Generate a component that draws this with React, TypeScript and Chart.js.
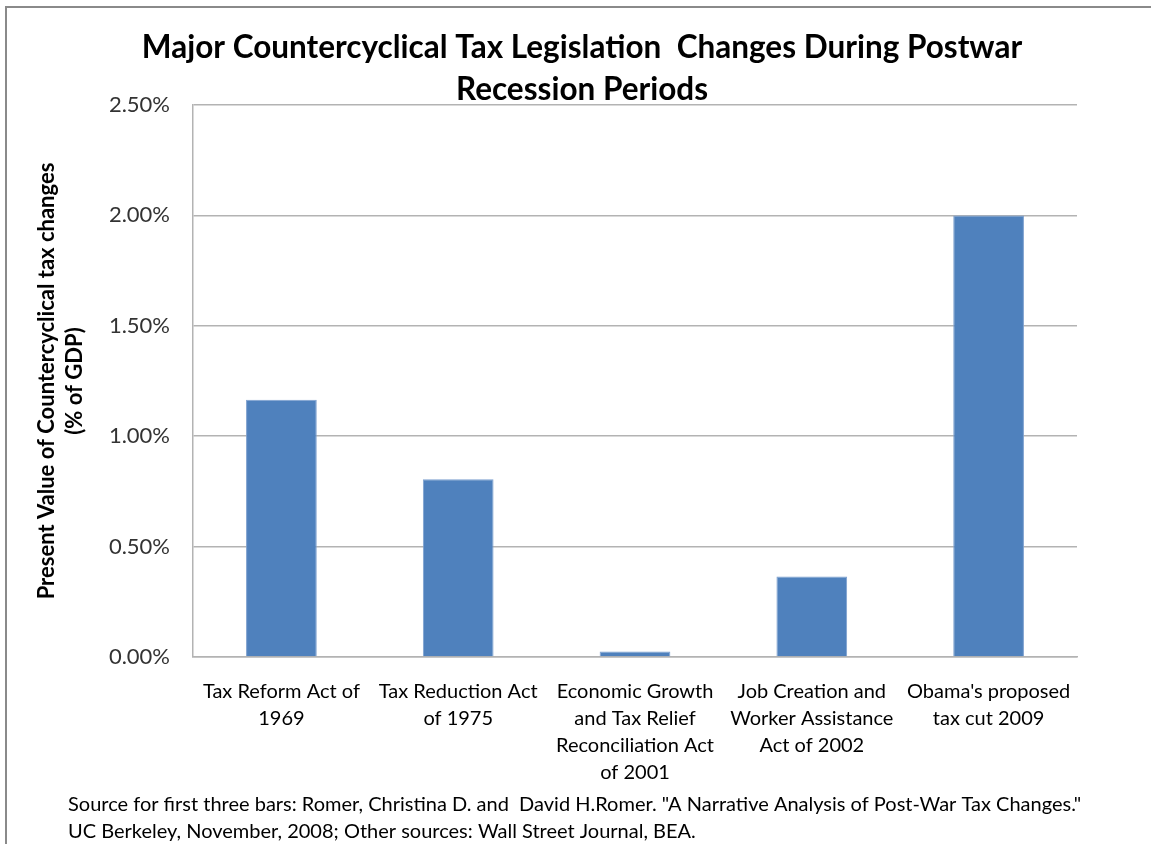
import React, { useEffect, useRef } from "react";
import { Chart, registerables } from "chart.js";

Chart.register(...registerables);

const categories: string[][] = [
  ["Tax Reform Act of", "1969"],
  ["Tax Reduction Act", "of 1975"],
  ["Economic Growth", "and Tax Relief", "Reconciliation Act", "of 2001"],
  ["Job Creation and", "Worker Assistance", "Act of 2002"],
  ["Obama's proposed", "tax cut 2009"],
];
const values: number[] = [1.165, 0.805, 0.025, 0.365, 2.0];
const yMin = 0;
const yMax = 2.5;
const yStep = 0.5;
const titleLines: string[] = [
  "Major Countercyclical Tax Legislation  Changes During Postwar",
  "Recession Periods",
];
const yAxisTitle: string[] = [
  "Present Value of Countercyclical tax changes",
  "(% of GDP)",
];
const sourceLines: string[] = [
  'Source for first three bars: Romer, Christina D. and  David H.Romer. "A Narrative Analysis of Post-War Tax Changes."',
  "UC Berkeley, November, 2008; Other sources: Wall Street Journal, BEA.",
];

const FONT = "Lato, 'Open Sans', sans-serif";

const frameAndNotePlugin = {
  id: "frameAndNote",
  afterDraw(chart: any) {
    const ctx = chart.ctx as CanvasRenderingContext2D;
    ctx.save();
    ctx.strokeStyle = "#8a8a8a";
    ctx.lineWidth = 2;
    ctx.beginPath();
    ctx.moveTo(6, chart.height);
    ctx.lineTo(6, 7);
    ctx.lineTo(chart.width, 7);
    ctx.stroke();
    ctx.fillStyle = "#000";
    ctx.font = `20px ${FONT}`;
    ctx.textAlign = "left";
    ctx.textBaseline = "middle";
    sourceLines.forEach((line, i) => ctx.fillText(line, 68, 805 + i * 27));
    ctx.restore();
  },
};

export default function App() {
  const canvasRef = useRef<HTMLCanvasElement | null>(null);

  useEffect(() => {
    document.body.style.margin = "0";
    const canvas = canvasRef.current;
    if (!canvas) return;
    const chart = new Chart(canvas, {
      type: "bar",
      data: {
        labels: categories,
        datasets: [
          {
            data: values,
            backgroundColor: "#4F81BD",
            borderColor: "#7DA0CF",
            borderWidth: 1,
            barPercentage: 0.4,
            categoryPercentage: 1.0,
          },
        ],
      },
      options: {
        responsive: false,
        animation: false,
        devicePixelRatio: 1,
        layout: { padding: { left: 13, right: 0, top: 0, bottom: 0 } },
        plugins: {
          legend: { display: false },
          tooltip: { enabled: false },
          title: {
            display: true,
            text: titleLines,
            color: "#000",
            font: { family: FONT, size: 31.5, weight: "bold", lineHeight: 42 / 31.5 },
            padding: { top: 27, bottom: -6 },
          },
        },
        scales: {
          x: {
            grid: { display: false, drawTicks: false },
            border: { display: true, color: "#b3b3b3", width: 1.5 },
            ticks: {
              color: "#000",
              autoSkip: false,
              maxRotation: 0,
              minRotation: 0,
              padding: 21,
              font: { family: FONT, size: 20, lineHeight: 27 / 20 },
            },
            afterFit: (scale: any) => {
              scale.height = 187;
            },
          },
          y: {
            min: yMin,
            max: yMax,
            ticks: {
              stepSize: yStep,
              color: "#333",
              padding: 23,
              font: { family: FONT, size: 22 },
              callback: (v: any) => Number(v).toFixed(2) + "%",
            },
            grid: { color: "#b3b3b3", lineWidth: 1.5, drawTicks: false },
            border: { display: true, color: "#b3b3b3", width: 1.5 },
            title: {
              display: true,
              text: yAxisTitle,
              color: "#000",
              font: { family: FONT, size: 22, weight: "bold", lineHeight: 28 / 22 },
              padding: { top: 20, bottom: 0 },
            },
            afterFit: (scale: any) => {
              scale.width = 180;
            },
          },
          yRight: {
            position: "right",
            display: true,
            ticks: { display: false },
            grid: { display: false, drawTicks: false },
            border: { display: false },
            afterFit: (scale: any) => {
              scale.width = 74;
            },
          },
        },
      },
      plugins: [frameAndNotePlugin],
    } as any);
    return () => chart.destroy();
  }, []);

  return (
    <div style={{ width: 1151, height: 844, position: "relative" }}>
      <canvas ref={canvasRef} width={1151} height={844} style={{ width: 1151, height: 844 }} />
    </div>
  );
}
